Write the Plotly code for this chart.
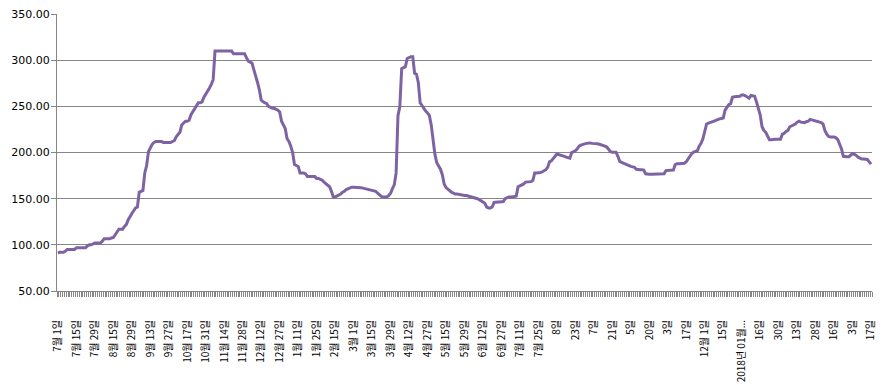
import plotly.graph_objects as go

# Series values (one per trading day, 10 days per labelled interval)
values = [
    91, 92, 92, 92, 93, 95, 95, 95, 95, 95,
    97, 97, 97, 97, 97, 97, 99, 100, 100, 101,
    102, 102, 102, 102, 104, 106.5, 106.5, 106.5, 106.5, 107.5,
    108, 111, 114, 117, 117, 117, 120, 122, 127, 131,
    134, 137, 140, 141, 157, 158, 159, 178, 186, 201,
    206, 209, 211, 212, 212, 212, 212, 211, 211, 211,
    211, 211, 212, 213, 217, 219, 222, 230, 232, 234,
    234, 235, 241, 244, 248, 251, 254, 254, 255, 260,
    263, 266, 270, 274, 279, 310, 310, 310, 310, 310,
    310, 310, 310, 310, 310, 307, 307, 307, 307, 307,
    307, 307, 303, 299, 298, 297, 290, 284, 276, 268,
    257, 255, 254, 253, 250, 249, 248, 248, 247, 246,
    244, 234, 230, 226, 215, 212, 207, 200, 187, 186,
    185, 178, 178, 178, 177, 174, 174, 174, 174, 174,
    172, 172, 171, 170, 168, 166, 164, 163, 158, 152,
    152, 153, 154, 155, 157, 158, 160, 161, 162, 162.5,
    162.5, 162.5, 162.5, 162, 162, 161.5, 161, 160.5, 160, 159.5,
    159.5, 159, 158, 156, 154, 152.5, 152, 152, 152, 153.5,
    156, 161, 165, 178, 240, 250, 291, 292, 293, 302,
    303, 304, 304, 286, 285, 276, 254, 251, 247, 245,
    243, 240, 230, 214, 198, 189, 186, 182, 176, 166,
    162, 160, 158, 157, 156, 155, 155, 154.5, 154, 154,
    153.5, 153.5, 153, 152.5, 152, 151.5, 151, 150, 149, 147.5,
    146.5, 145, 141, 140, 140, 141, 146, 146.5, 146.5, 146.5,
    146.5, 147, 150, 151, 152, 152, 152, 152.5, 153, 163,
    164, 165, 166, 168, 168, 168.5, 168.5, 170, 178, 178,
    178, 178.5, 179, 180, 181.5, 184, 190, 191, 193, 196,
    198.5, 198, 197.5, 197, 196, 195, 194.5, 194, 200, 201,
    202, 204, 207, 208, 209, 209.5, 210, 210.5, 210.5, 210,
    210, 210, 209.5, 209, 208.5, 208, 207, 206, 204, 201,
    200.5, 200.5, 200.5, 196, 190.5, 189.5, 188.5, 188, 187, 186,
    185, 184.5, 184, 182, 181.5, 181.5, 181.5, 181, 177, 176.5,
    176.5, 176.5, 176.5, 176.5, 176.5, 176.5, 176.5, 176.5, 177, 180.5,
    180.5, 180.5, 180.5, 181, 187, 188, 188, 188, 188, 188.5,
    190, 193, 196, 199, 200.5, 201, 202, 207, 210, 215,
    222, 231, 232, 232.5, 233.5, 234, 235, 236, 236.5, 237,
    237.5, 246, 249, 252, 253, 260, 260.5, 260.5, 261, 261,
    262.5, 262.5, 261.5, 260.5, 259, 262, 261.5, 261, 255, 249,
    241, 228, 224, 222, 218, 214, 214, 214.5, 214.5, 214.5,
    214.5, 214.5, 220, 221, 223, 224, 228, 229, 230.5, 231,
    233, 234, 233, 232.5, 232.5, 233.5, 234, 236, 235.5, 235,
    234.5, 234, 233.5, 232.5, 231, 224, 220, 217.5, 217, 217,
    217, 216, 214, 209, 204, 196, 195.5, 195.5, 195.5, 197,
    199, 198, 197, 195, 193.5, 193, 193, 193, 192.5, 190,
    187.5,
]

# Tick labels, one every 10 trading days
tick_labels = [
    "7월 1일", "7월 15일", "7월 29일", "8월 15일", "8월 29일", "9월 13일",
    "9월 27일", "10월 17일", "10월 31일", "11월 14일", "11월 28일",
    "12월 12일", "12월 27일", "1월 11일", "1월 25일", "2월 15일", "3월 1일",
    "3월 15일", "3월 29일", "4월 12일", "4월 27일", "5월 15일", "5월 29일",
    "6월 12일", "6월 27일", "7월 11일", "7월 25일", "8일", "23일", "7일",
    "21일", "5일", "20일", "3일", "17일", "12월 1일", "15일",
    "2018년 01월...", "16일", "30일", "13일", "28일", "16일", "3일", "17일",
]
label_step = 10

# y-axis tick values
y_ticks = [50, 100, 150, 200, 250, 300, 350]

n = len(values)
x = list(range(n))
tickvals = [i * label_step for i in range(len(tick_labels))]

grid = "#868686"

fig = go.Figure()
fig.add_trace(go.Scatter(
    x=x, y=values, mode="lines",
    line=dict(color="#7E63A3", width=3),
    hoverinfo="skip",
))

# the page body adds an 8px offset; compensate in size/margins
fig.update_layout(
    width=880, height=377,
    margin=dict(l=49, r=16, t=6, b=94, autoexpand=False),
    paper_bgcolor="white", plot_bgcolor="white",
    showlegend=False,
    font=dict(family="DejaVu Sans", color="#000000"),
)

fig.update_xaxes(
    range=[-0.5, n - 0.5],
    tickmode="array", tickvals=tickvals, ticktext=tick_labels,
    tickangle=-90,
    tickfont=dict(family="Noto Sans CJK KR", size=10, color="#000000"),
    ticks="", showgrid=False, zeroline=False,
    showline=True, linecolor=grid, linewidth=1,
    automargin=False,
    ticklabelstandoff=24,
    minor=dict(tickmode="linear", tick0=-0.5, dtick=1, ticks="outside",
               ticklen=5, tickcolor=grid, tickwidth=1, showgrid=False),
)

fig.update_yaxes(
    range=[50, 350.2],
    tickmode="array", tickvals=y_ticks, tickformat=".2f",
    tickfont=dict(family="DejaVu Sans", size=11, color="#000000"),
    showgrid=True, gridcolor=grid, gridwidth=1,
    zeroline=False, showline=True, linecolor=grid, linewidth=1,
    ticks="outside", ticklen=5, tickcolor=grid,
    automargin=False,
    ticklabeloverflow="allow",
    ticklabelstandoff=-1,
)

fig.write_html("out.html")
